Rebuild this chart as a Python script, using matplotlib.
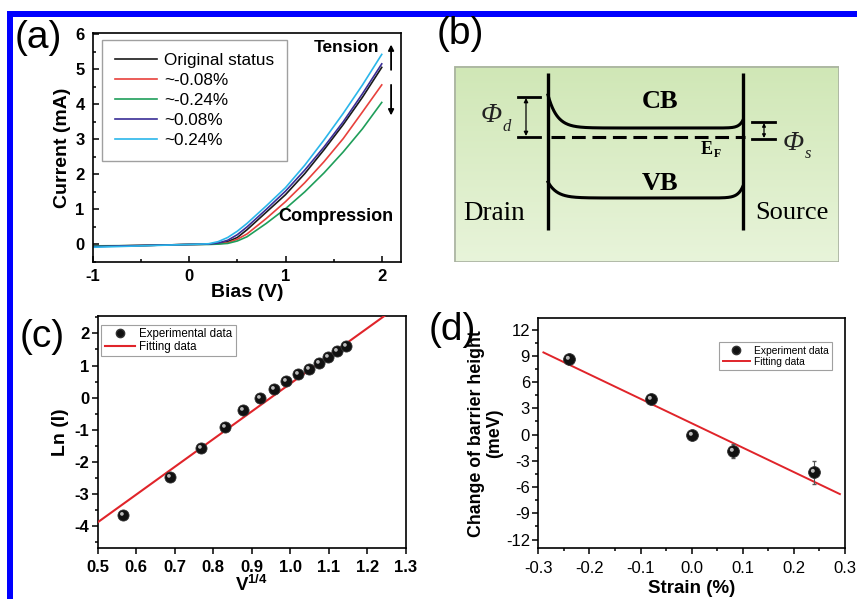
import numpy as np
import matplotlib
matplotlib.use("Agg")
import matplotlib.pyplot as plt
from matplotlib.patches import Rectangle
from matplotlib.path import Path
from matplotlib.ticker import MultipleLocator

plt.rcParams['font.family'] = ['Liberation Sans', 'DejaVu Sans']
plt.rcParams['mathtext.fontset'] = 'custom'
plt.rcParams['mathtext.rm'] = 'Liberation Sans:bold'
plt.rcParams['mathtext.sf'] = 'Liberation Sans:bold'
plt.rcParams['axes.unicode_minus'] = False

# ---- (a) I-V curves under strain ----
bias = [-1.0, -0.5, 0.0, 0.2, 0.3, 0.4, 0.5, 0.6, 0.8, 1.0, 1.2, 1.4, 1.6, 1.8, 2.0]
cur_original = [-0.05, -0.03, 0.0, 0.01, 0.03, 0.08, 0.2, 0.42, 0.92, 1.42, 2.02, 2.7, 3.42, 4.2, 5.05]
cur_m008 = [-0.05, -0.03, 0.0, 0.01, 0.02, 0.05, 0.15, 0.3, 0.74, 1.22, 1.76, 2.36, 3.02, 3.78, 4.55]
cur_m024 = [-0.04, -0.03, 0.0, 0.0, 0.01, 0.03, 0.1, 0.22, 0.6, 1.02, 1.5, 2.04, 2.64, 3.3, 4.05]
cur_p008 = [-0.06, -0.03, 0.0, 0.01, 0.04, 0.12, 0.28, 0.5, 1.0, 1.52, 2.12, 2.78, 3.5, 4.3, 5.15]
cur_p024 = [-0.08, -0.04, 0.0, 0.02, 0.08, 0.2, 0.38, 0.6, 1.1, 1.62, 2.26, 2.98, 3.74, 4.55, 5.42]
iv_labels = ['Original status', '~-0.08%', '~-0.24%', '~0.08%', '~0.24%']
iv_colors = ['#1a1a1a', '#e8413c', '#1f9e5a', '#3a2e96', '#2bb6ea']

# ---- (c) Ln(I) vs V^1/4 ----
v14 = [0.565, 0.688, 0.768, 0.830, 0.878, 0.922, 0.958, 0.990, 1.020, 1.048, 1.074, 1.098, 1.122, 1.144]
ln_i = [-3.65, -2.48, -1.58, -0.90, -0.40, -0.02, 0.27, 0.52, 0.73, 0.90, 1.08, 1.27, 1.45, 1.60]
fit_c_x = [0.5, 1.3]
fit_c_y = [-3.88, 3.02]

# ---- (d) barrier height change vs strain ----
strain = [-0.24, -0.08, 0.0, 0.08, 0.24]
barrier = [8.7, 4.1, 0.0, -1.9, -4.3]
barrier_err = [0.3, 0.3, 0.2, 0.8, 1.3]
fit_d_x = [-0.29, 0.29]
fit_d_y = [9.4, -6.8]

W, H = 857, 599
fig = plt.figure(figsize=(W / 100, H / 100), dpi=100)

TICK_FS = 12
LABEL_FS = 14


def px_rect(left, top, right, bottom):
    return [left / W, 1 - bottom / H, (right - left) / W, (bottom - top) / H]


# blue frame lines (top and left)
fig.add_artist(Rectangle((7 / W, 0), 5.5 / W, (H - 11) / H, transform=fig.transFigure,
                         color='#0000ff', lw=0))
fig.add_artist(Rectangle((7 / W, 1 - 16.5 / H), (W - 7) / W, 5.5 / H, transform=fig.transFigure,
                         color='#0000ff', lw=0))

# sphere-like marker: dark ball plus offset highlight
theta = np.linspace(0, 2 * np.pi, 40)
hl_path = Path(np.column_stack([0.35 * np.cos(theta) - 0.3, 0.35 * np.sin(theta) + 0.3]))


def balls(ax, x, y, size=8, zorder=4):
    ax.plot(x, y, 'o', ms=size, mfc='#111111', mec='#333333', mew=0.6, ls='none', zorder=zorder)
    ax.plot(x, y, ls='none', marker=hl_path, ms=size * 0.62, mfc='#bbbbbb', mec='none',
            zorder=zorder + 0.1)


def style_axes(ax, bold_ticks=True, lw=1.2):
    for s in ax.spines.values():
        s.set_linewidth(lw)
    ax.tick_params(which='both', top=False, right=False, width=1.1)
    ax.tick_params(which='major', length=4, labelsize=TICK_FS, pad=2)
    ax.tick_params(which='minor', length=2.5)
    if bold_ticks:
        for t in ax.get_xticklabels() + ax.get_yticklabels():
            t.set_fontweight('bold')


# ---------------- panel (a) ----------------
ax_a = fig.add_axes(px_rect(93, 33, 401, 262))
for cur, lab, col in zip([cur_original, cur_m008, cur_m024, cur_p008, cur_p024], iv_labels, iv_colors):
    ax_a.plot(bias, cur, color=col, lw=1.2, label=lab)
ax_a.set_xlim(-1, 2.2)
ax_a.set_ylim(-0.5, 6.03)
ax_a.xaxis.set_major_locator(MultipleLocator(1))
ax_a.xaxis.set_minor_locator(MultipleLocator(0.5))
ax_a.yaxis.set_major_locator(MultipleLocator(1))
ax_a.yaxis.set_minor_locator(MultipleLocator(0.5))
ax_a.tick_params(which='both', direction='in')
style_axes(ax_a)
ax_a.tick_params(axis='y', pad=6)
ax_a.tick_params(axis='x', pad=5)
ax_a.set_xlabel('Bias (V)', fontsize=LABEL_FS, fontweight='bold', labelpad=0)
ax_a.set_ylabel('Current (mA)', fontsize=LABEL_FS, fontweight='bold', labelpad=3)
leg = ax_a.legend(loc='upper left', bbox_to_anchor=(0.029, 0.97), borderaxespad=0,
                  fontsize=12.3, frameon=True, fancybox=False, edgecolor='#888888',
                  handlelength=2.5, labelspacing=0.3, borderpad=0.75, handletextpad=0.4)
leg.get_frame().set_linewidth(1.0)
ax_a.text(1.63, 5.63, 'Tension', fontsize=12.5, fontweight='bold', ha='center', va='center')
ax_a.text(1.52, 0.80, 'Compression', fontsize=13, fontweight='bold', ha='center', va='center')
ax_a.annotate('', xy=(2.097, 5.78), xytext=(2.097, 4.9),
              arrowprops=dict(arrowstyle='-|>', color='black', lw=1.3, mutation_scale=8))
ax_a.annotate('', xy=(2.097, 3.6), xytext=(2.097, 4.63),
              arrowprops=dict(arrowstyle='-|>', color='black', lw=1.3, mutation_scale=8))

# ---------------- panel (b) schematic ----------------
bx0, by0, bx1, by1 = 454, 66, 839, 262
ax_b = fig.add_axes(px_rect(bx0, by0, bx1, by1))
ax_b.set_xlim(bx0, bx1)
ax_b.set_ylim(by1, by0)
ax_b.axis('off')
grad = np.linspace(0, 1, 256)[:, None]
top_c = np.array([208, 231, 182]) / 255
bot_c = np.array([232, 244, 218]) / 255
img = top_c[None, None, :] * (1 - grad[..., None]) + bot_c[None, None, :] * grad[..., None]
img = np.repeat(img, 2, axis=1)
ax_b.imshow(img, extent=(bx0, bx1, by1, by0), aspect='auto', zorder=0)
ax_b.add_patch(Rectangle((bx0 + 0.5, by0 + 0.5), bx1 - bx0 - 1, by1 - by0 - 1, fill=False,
                         ec='#a8b0a0', lw=1.2, zorder=1))

xl, xr = 548, 743
ax_b.plot([xl, xl], [73, 230], color='black', lw=2.4, solid_capstyle='butt')
ax_b.plot([xr, xr], [73, 230], color='black', lw=2.4, solid_capstyle='butt')
xx = np.linspace(xl, xr, 400)
cb = 128 - 33 * np.exp(-(xx - xl) / 9.0) - 8 * np.exp(-(xr - xx) / 4.0)
vb = 198 - 16 * np.exp(-(xx - xl) / 9.0) - 12 * np.exp(-(xr - xx) / 5.0)
ax_b.plot(xx, cb, color='black', lw=2.2)
ax_b.plot(xx, vb, color='black', lw=2.2)
ax_b.plot([xl + 3, xr + 2], [137, 137], color='black', lw=2.2, dashes=(4.5, 2.2))

# Phi_d bracket
ax_b.plot([518, 540], [97, 97], color='black', lw=2.0)
ax_b.plot([518, 540], [137, 137], color='black', lw=2.0)
ax_b.annotate('', xy=(526, 98), xytext=(526, 136),
              arrowprops=dict(arrowstyle='<|-|>', color='black', lw=0.9, mutation_scale=6,
                              shrinkA=0, shrinkB=0))
# Phi_s bracket
ax_b.plot([752, 775], [122, 122], color='black', lw=2.0)
ax_b.plot([752, 775], [139, 139], color='black', lw=2.0)
ax_b.annotate('', xy=(764, 123), xytext=(764, 138),
              arrowprops=dict(arrowstyle='<|-|>', color='black', lw=0.9, mutation_scale=5,
                              shrinkA=0, shrinkB=0))

serif_it = dict(family='Liberation Serif', style='italic', color='#222222')
ax_b.text(491, 116, '\u03a6', fontsize=20, ha='center', va='center', **serif_it)
ax_b.text(507, 127, 'd', fontsize=12, ha='center', va='center', **serif_it)
ax_b.text(793, 143, '\u03a6', fontsize=20, ha='center', va='center', **serif_it)
ax_b.text(808, 154, 's', fontsize=12, ha='center', va='center', **serif_it)
ax_b.text(660, 101, 'CB', fontsize=19, fontweight='bold', family='Liberation Serif',
          ha='center', va='center')
ax_b.text(660, 183, 'VB', fontsize=19, fontweight='bold', family='Liberation Serif',
          ha='center', va='center')
ax_b.text(707, 149, 'E', fontsize=13, fontweight='bold', family='Liberation Serif',
          ha='center', va='center')
ax_b.text(717, 154, 'F', fontsize=8.5, fontweight='bold', family='Liberation Serif',
          ha='center', va='center')
ax_b.text(494, 213, 'Drain', fontsize=19.5, family='Liberation Serif', ha='center', va='center')
ax_b.text(792, 213, 'Source', fontsize=19, family='Liberation Serif', ha='center', va='center')

# ---------------- panel (c) ----------------
ax_c = fig.add_axes(px_rect(97.7, 315.7, 405.7, 547.7))
fit_c, = ax_c.plot(fit_c_x, fit_c_y, color='#e0242a', lw=1.5, zorder=3)
balls(ax_c, v14, ln_i, size=8)
ax_c.set_xlim(0.5, 1.3)
ax_c.set_ylim(-4.67, 2.55)
ax_c.xaxis.set_major_locator(MultipleLocator(0.1))
ax_c.yaxis.set_major_locator(MultipleLocator(1))
ax_c.yaxis.set_minor_locator(MultipleLocator(0.5))
ax_c.xaxis.set_major_formatter(lambda v, p: f'{v:.1f}')
ax_c.tick_params(which='both', direction='out')
style_axes(ax_c)
ax_c.tick_params(axis='x', pad=5)
ax_c.set_xlabel(r'V$^{\mathsf{1/4}}$', fontsize=13.5, fontweight='bold', labelpad=-1)
ax_c.set_ylabel('Ln (I)', fontsize=LABEL_FS, fontweight='bold', labelpad=4)
h_ball = ax_c.plot([], [], 'o', ms=6, mfc='#111111', mec='#333333')[0]
leg_c = ax_c.legend([h_ball, fit_c], ['Experimental data', 'Fitting data'], loc='upper left',
                    bbox_to_anchor=(0.011, 0.96), borderaxespad=0, fontsize=8.3, fancybox=False,
                    edgecolor='#888888', handlelength=2.6, labelspacing=0.05, borderpad=0.3,
                    handletextpad=0.4)
leg_c.get_frame().set_linewidth(0.8)

# ---------------- panel (d) ----------------
ax_d = fig.add_axes(px_rect(538.3, 318.3, 845, 548.3))
fit_d, = ax_d.plot(fit_d_x, fit_d_y, color='#e0242a', lw=1.4, zorder=3)
ax_d.errorbar(strain, barrier, yerr=barrier_err, fmt='none', ecolor='#555555', elinewidth=0.8,
              capsize=1.5, zorder=3.5)
balls(ax_d, strain, barrier, size=8.5)
ax_d.set_xlim(-0.3, 0.3)
ax_d.set_ylim(-13.0, 13.3)
ax_d.xaxis.set_major_locator(MultipleLocator(0.1))
ax_d.xaxis.set_minor_locator(MultipleLocator(0.05))
ax_d.yaxis.set_major_locator(MultipleLocator(3))
ax_d.yaxis.set_minor_locator(MultipleLocator(1.5))
ax_d.xaxis.set_major_formatter(lambda v, p: f'{v:.1f}')
ax_d.tick_params(which='both', direction='out')
style_axes(ax_d, bold_ticks=False)
ax_d.tick_params(axis='x', pad=5)
ax_d.set_xlabel('Strain (%)', fontsize=13.5, fontweight='bold', labelpad=3)
ax_d.set_ylabel('Change of barrier height\n(meV)', fontsize=12.8, fontweight='bold',
                labelpad=2, linespacing=1.05)
h_ball_d = ax_d.plot([], [], 'o', ms=6, mfc='#111111', mec='#333333')[0]
leg_d = ax_d.legend([h_ball_d, fit_d], ['Experiment data', 'Fitting data'],
                    loc='upper right', bbox_to_anchor=(0.958, 0.897), borderaxespad=0,
                    fontsize=7.4, fancybox=False, edgecolor='#888888', handlelength=2.6,
                    labelspacing=0.1, borderpad=0.35, handletextpad=0.4)
leg_d.get_frame().set_linewidth(0.8)

# panel letters
for lab, (x, y) in zip(['(a)', '(b)', '(c)', '(d)'],
                       [(38, 38), (460, 34), (42, 337), (452, 330)]):
    fig.text(x / W, 1 - y / H, lab, fontsize=28, ha='center', va='center')

fig.savefig('out.png', dpi=100)
